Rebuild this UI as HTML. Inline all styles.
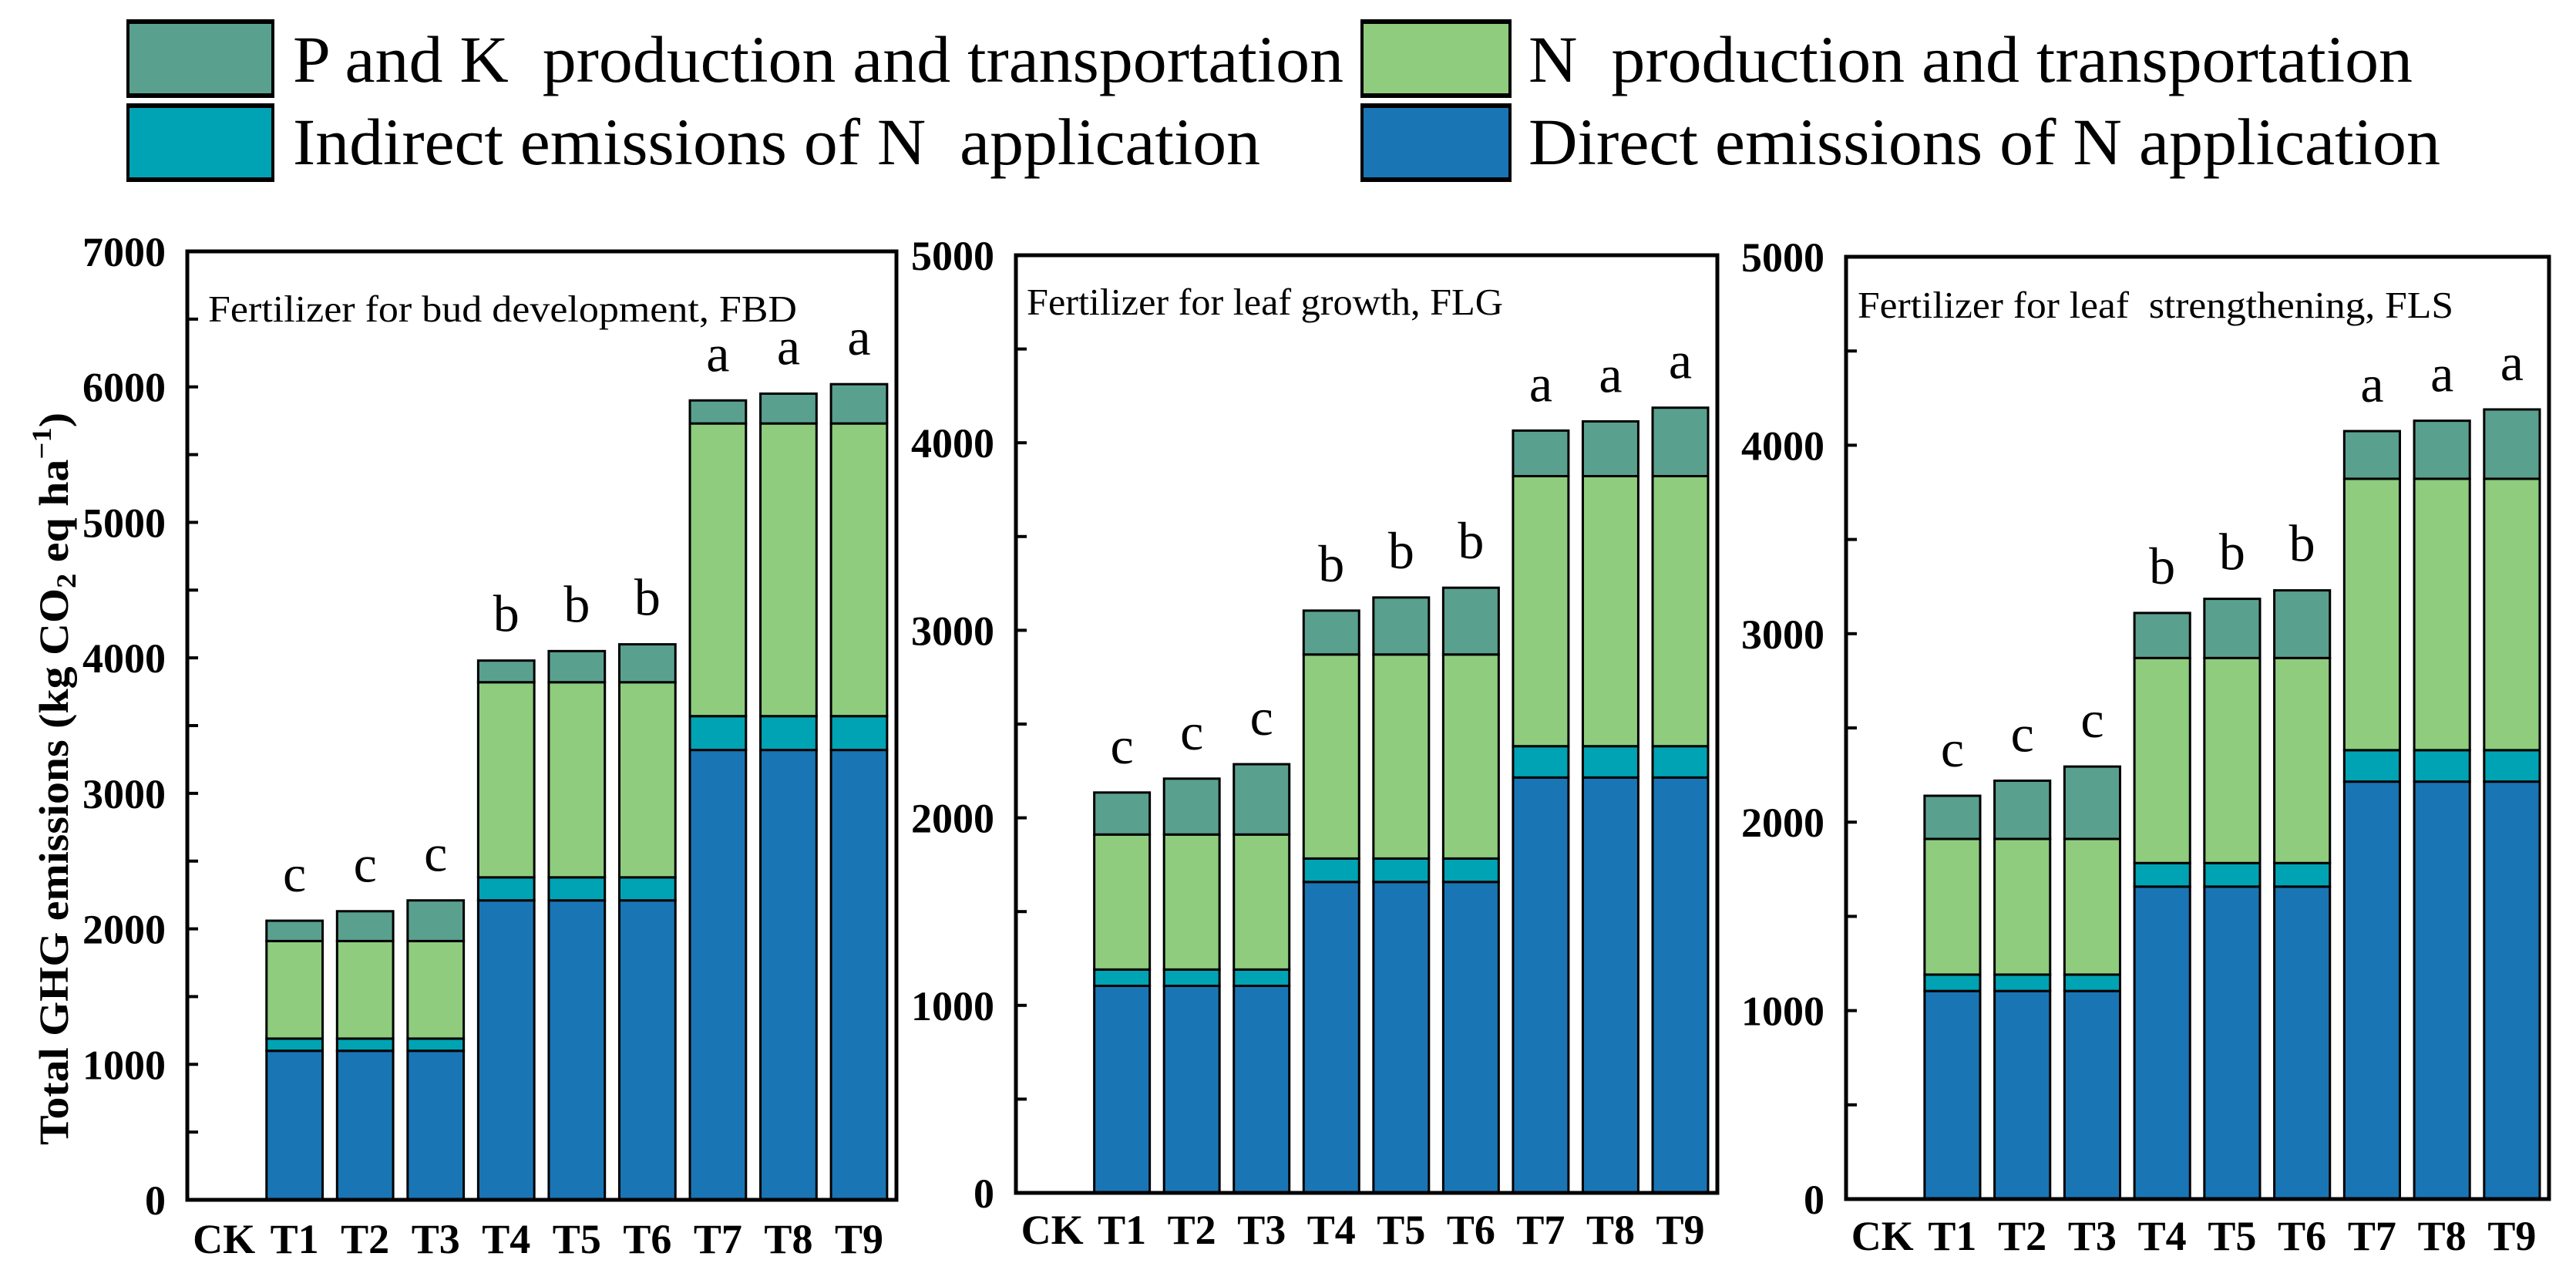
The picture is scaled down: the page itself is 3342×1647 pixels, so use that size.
<!DOCTYPE html>
<html><head><meta charset="utf-8"><style>
html,body{margin:0;padding:0;background:#fff;}
svg{display:block;font-family:"Liberation Serif",serif;}
text{white-space:pre;}
</style></head><body>
<svg id="chart" width="3342" height="1647" viewBox="0 0 3342 1647" xmlns="http://www.w3.org/2000/svg">
  <g>
    <g>
      <rect x="166" y="29" width="188" height="94" fill="#5aa08f" stroke="#000" stroke-width="4"/>
      <rect x="164" y="25" width="192" height="6" fill="#000"/><rect x="164" y="121" width="192" height="6" fill="#000"/>
      <text x="380" y="106" font-size="86" textLength="1363" lengthAdjust="spacingAndGlyphs">P and K  production and transportation</text>
    </g>
    <g>
      <rect x="1767" y="29" width="192" height="94" fill="#8fcc7e" stroke="#000" stroke-width="4"/>
      <rect x="1765" y="25" width="196" height="6" fill="#000"/><rect x="1765" y="121" width="196" height="6" fill="#000"/>
      <text x="1983" y="106" font-size="86" textLength="1147" lengthAdjust="spacingAndGlyphs">N  production and transportation</text>
    </g>
    <g>
      <rect x="166" y="138" width="188" height="94" fill="#00a3b4" stroke="#000" stroke-width="4"/>
      <rect x="164" y="134" width="192" height="6" fill="#000"/><rect x="164" y="230" width="192" height="6" fill="#000"/>
      <text x="380" y="213" font-size="86" textLength="1255" lengthAdjust="spacingAndGlyphs">Indirect emissions of N  application</text>
    </g>
    <g>
      <rect x="1767" y="138" width="192" height="94" fill="#1a75b5" stroke="#000" stroke-width="4"/>
      <rect x="1765" y="134" width="196" height="6" fill="#000"/><rect x="1765" y="230" width="196" height="6" fill="#000"/>
      <text x="1983" y="213" font-size="86" textLength="1183" lengthAdjust="spacingAndGlyphs">Direct emissions of N application</text>
    </g>
  </g>
  <text transform="translate(88,1010) rotate(-90)" text-anchor="middle" font-size="54" font-weight="bold" textLength="950" lengthAdjust="spacingAndGlyphs">Total GHG emissions (kg CO<tspan font-size="36" dy="10">2</tspan><tspan dy="-10"> eq ha</tspan><tspan font-size="36" dy="-22">−1</tspan><tspan dy="22">)</tspan></text>
  <g id="panels"></g>
</svg>
<script>
const categories = ["CK","T1","T2","T3","T4","T5","T6","T7","T8","T9"];
// panel 1 FBD
const fbdDirect   = [0,1100,1100,1100,2210,2210,2210,3320,3320,3320];
const fbdIndirect = [0,90,90,90,170,170,170,250,250,250];
const fbdN        = [0,720,720,720,1440,1440,1440,2160,2160,2160];
const fbdPK       = [0,150,220,300,160,230,280,170,220,290];
const fbdLetters  = ["","c","c","c","b","b","b","a","a","a"];
// panel 2 FLG
const flgDirect   = [0,1104,1104,1104,1658,1658,1658,2215,2215,2215];
const flgIndirect = [0,87,87,87,125,125,125,167,167,167];
const flgN        = [0,720,720,720,1088,1088,1088,1440,1440,1440];
const flgPK       = [0,224,298,375,234,304,356,243,292,365];
const flgLetters  = ["","c","c","c","b","b","b","a","a","a"];
// panel 3 FLS
const flsDirect   = [0,1104,1104,1104,1658,1658,1658,2215,2215,2215];
const flsIndirect = [0,87,87,87,125,125,125,167,167,167];
const flsN        = [0,720,720,720,1088,1088,1088,1440,1440,1440];
const flsPK       = [0,229,309,384,239,314,359,253,308,368];
const flsLetters  = ["","c","c","c","b","b","b","a","a","a"];
const fbdTicks = [0,1000,2000,3000,4000,5000,6000,7000];
const flgTicks = [0,1000,2000,3000,4000,5000];
const flsTicks = [0,1000,2000,3000,4000,5000];

const NS="http://www.w3.org/2000/svg";
const root=document.getElementById('panels');
function mk(tag,attrs,parent){const e=document.createElementNS(NS,tag);for(const k in attrs)e.setAttribute(k,attrs[k]);parent.appendChild(e);return e;}
const colors=["#1a75b5","#00a3b4","#8fcc7e","#5aa08f"];
const segNames=["direct","indirect","n-production","pk-production"];

function panel(cfg){
  const g=mk('g',{},root);
  
  
  const L=cfg.left,R=cfg.right,T=cfg.top,B=cfg.bottom,max=cfg.ticks[cfg.ticks.length-1];
  const y=v=>B-(v/max)*(B-T);
  const pitch=(R-L)/10.05;
  const xc=i=>L+(i+0.52)*pitch;
  const bw=pitch*0.795;
  const series=[cfg.direct,cfg.indirect,cfg.n,cfg.pk];
  categories.forEach((c,i)=>{
    let acc=0;
    series.forEach((s,k)=>{
      const v=s[i]; if(v<=0){return;}
      const r=mk('rect',{x:xc(i)-bw/2,y:y(acc+v),width:bw,height:y(acc)-y(acc+v),fill:colors[k],stroke:'#000','stroke-width':3},g);
      
      
      acc+=v;
    });
    if(cfg.letters[i]){
      const t=mk('text',{x:xc(i),y:y(acc)-38,'text-anchor':'middle','font-size':68},g);
      
      
      t.textContent=cfg.letters[i];
    }
    const xl=mk('text',{x:xc(i),y:cfg.labelY,'text-anchor':'middle','font-size':54,'font-weight':'bold'},g);
    
    
    xl.textContent=c;
  });
  for(let v=0;v<=max;v+=500){
    const tk=mk('line',{x1:L,x2:L+14,y1:y(v),y2:y(v),stroke:'#000','stroke-width':4},g);
    
    
  }
  cfg.ticks.forEach(v=>{
    const t=mk('text',{x:L-28,y:y(v)+19,'text-anchor':'end','font-size':54,'font-weight':'bold'},g);
    
    
    t.textContent=v;
  });
  const fr=mk('rect',{x:L,y:T,width:R-L,height:B-T,fill:'none',stroke:'#000','stroke-width':5},g);
  
  
  const tt=mk('text',{x:cfg.titleX,y:cfg.titleY,'font-size':49,textLength:cfg.titleW,lengthAdjust:'spacingAndGlyphs'},g);
  
  
  tt.textContent=cfg.title;
}
panel({id:'fbd',left:243,right:1163,top:326,bottom:1556,ticks:fbdTicks,direct:fbdDirect,indirect:fbdIndirect,n:fbdN,pk:fbdPK,letters:fbdLetters,labelY:1625,title:'Fertilizer for bud development, FBD',titleX:270,titleY:417,titleW:764});
panel({id:'flg',left:1318,right:2228,top:331,bottom:1547,ticks:flgTicks,direct:flgDirect,indirect:flgIndirect,n:flgN,pk:flgPK,letters:flgLetters,labelY:1613,title:'Fertilizer for leaf growth, FLG',titleX:1332,titleY:408,titleW:618});
panel({id:'fls',left:2395,right:3307,top:333,bottom:1555,ticks:flsTicks,direct:flsDirect,indirect:flsIndirect,n:flsN,pk:flsPK,letters:flsLetters,labelY:1621,title:'Fertilizer for leaf  strengthening, FLS',titleX:2410,titleY:412,titleW:773});
</script>
</body></html>
